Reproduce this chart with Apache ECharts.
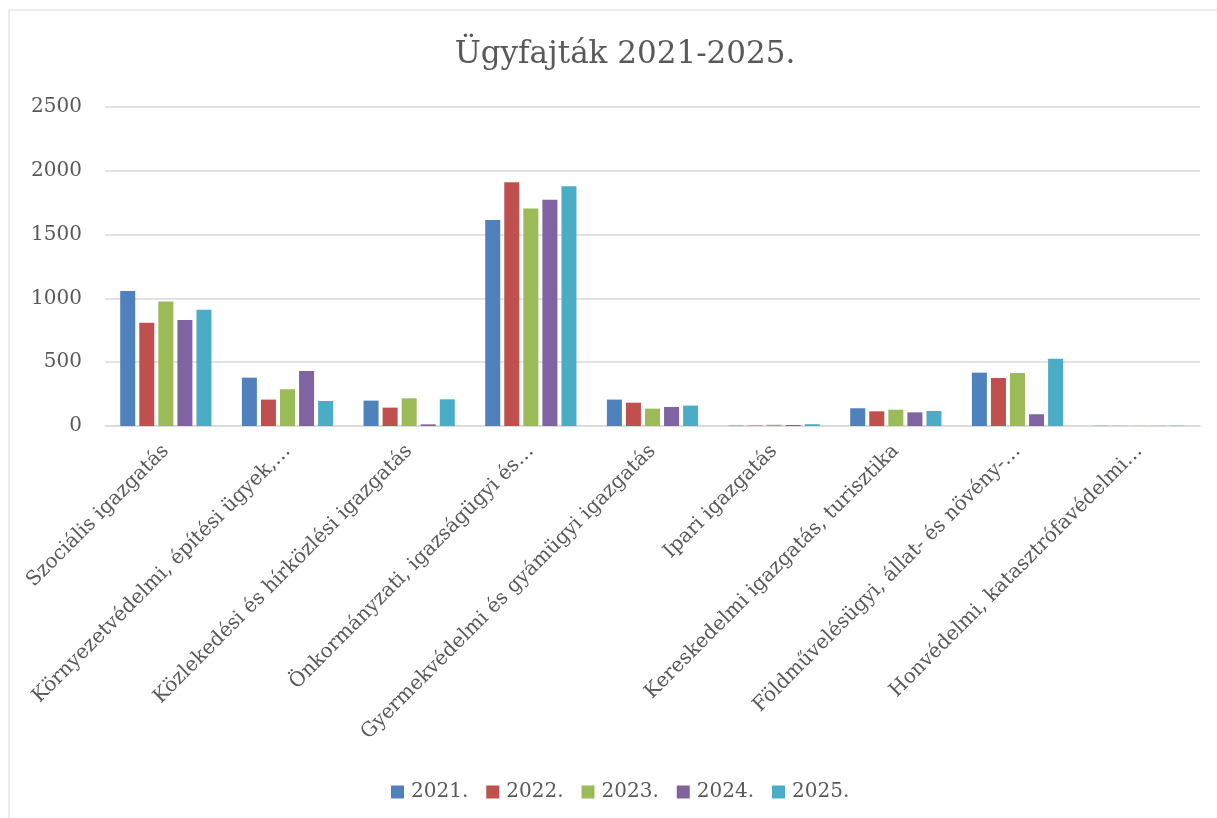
<!DOCTYPE html>
<html>
<head>
<meta charset="utf-8">
<title>Ügyfajták 2021-2025.</title>
<script src="https://cdn.jsdelivr.net/npm/echarts@6/dist/echarts.min.js"></script>
<style>
html, body { margin: 0; padding: 0; background: #fff; }
#chart { width: 1217px; height: 818px; }
</style>
</head>
<body>
<div id="chart"></div>
<script>
// ügyfajták kategóriái
var categories = [
	'Szociális igazgatás',
	'Környezetvédelmi, építési ügyek,…',
	'Közlekedési és hírközlési igazgatás',
	'Önkormányzati, igazságügyi és…',
	'Gyermekvédelmi és gyámügyi igazgatás',
	'Ipari igazgatás',
	'Kereskedelmi igazgatás, turisztika',
	'Földművelésügyi, állat- és növény-…',
	'Honvédelmi, katasztrófavédelmi…'
];
var years = ['2021.', '2022.', '2023.', '2024.', '2025.'];
// évenkénti ügyszámok
var v2021 = [1058, 379, 199, 1614, 207, 3, 139, 418, 2];
var v2022 = [810, 207, 144, 1910, 183, 3, 115, 376, 1];
var v2023 = [975, 288, 217, 1704, 136, 10, 128, 415, 1];
var v2024 = [831, 431, 13, 1774, 149, 8, 107, 92, 1];
var v2025 = [912, 196, 209, 1878, 160, 14, 118, 527, 2];
var yTicks = [0, 500, 1000, 1500, 2000, 2500];

var colors = ['#4F81BD', '#C0504D', '#9BBB59', '#8064A2', '#4BACC6'];
var font = '"DejaVu Serif", "Liberation Serif", serif';
var txt = '#595959';

var chart = echarts.init(document.getElementById('chart'));

var allData = [v2021, v2022, v2023, v2024, v2025];
var series = years.map(function (y, i) {
	return {
		name: y,
		type: 'bar',
		data: allData[i],
		barGap: '27%',
		barCategoryGap: '25%',
		itemStyle: { color: colors[i] }
	};
});

chart.setOption({
	animation: false,
	color: colors,
	title: {
		text: 'Ügyfajták 2021-2025.',
		left: 620,
		top: 34,
		textAlign: 'center',
		textStyle: { fontFamily: font, fontSize: 31, fontWeight: 'normal', color: txt }
	},
	legend: {
		data: years,
		left: 386,
		top: 777,
		icon: 'rect',
		itemWidth: 13,
		itemHeight: 13,
		itemGap: 18,
		textStyle: { fontFamily: font, fontSize: 20, color: txt, padding: [0, 0, 0, 2] }
	},
	grid: { left: 105, right: 17, top: 107, bottom: 392 },
	xAxis: {
		type: 'category',
		data: categories,
		axisLine: { lineStyle: { color: '#d9d9d9', width: 1.5 } },
		axisTick: { show: false },
		axisLabel: {
			interval: 0,
			rotate: 45,
			margin: 22,
			fontFamily: font,
			fontSize: 20,
			color: txt
		}
	},
	yAxis: {
		type: 'value',
		min: yTicks[0],
		max: yTicks[yTicks.length - 1],
		interval: 500,
		axisLine: { show: false },
		axisTick: { show: false },
		splitLine: { lineStyle: { color: '#d9d9d9', width: 1.5 } },
		axisLabel: {
			margin: 23,
			fontFamily: font,
			fontSize: 20,
			color: txt,
			formatter: function (v) { return String(v); }
		}
	},
	graphic: [{
		type: 'rect',
		shape: { x: 9, y: 10, width: 1240, height: 830 },
		style: { fill: 'none', stroke: '#d9d9d9', lineWidth: 1 },
		silent: true
	}],
	series: series
});
</script>
</body>
</html>
